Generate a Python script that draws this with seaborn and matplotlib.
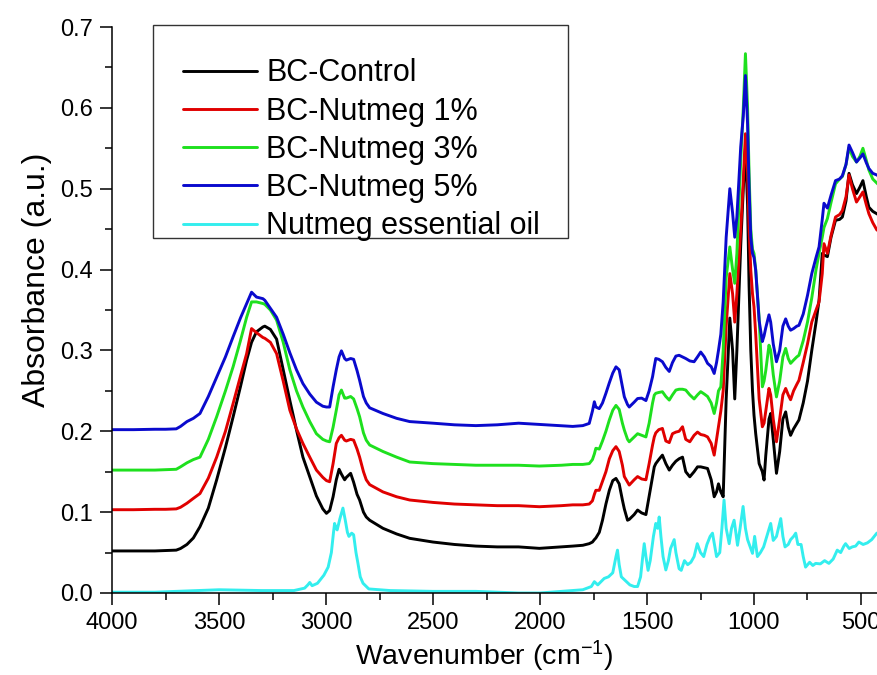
import numpy as np
import pandas as pd
import matplotlib
matplotlib.use("Agg")
import matplotlib.pyplot as plt
from matplotlib.patches import Rectangle
from matplotlib.ticker import MultipleLocator, FormatStrFormatter
import seaborn as sns

# FTIR spectra (wavenumber in cm-1, absorbance in a.u.)
wn_bc = [4000, 3900, 3800, 3750, 3700, 3680, 3650, 3620, 3589, 3550, 3511, 3470, 3434, 3400,
         3371, 3348, 3325, 3295, 3286, 3260, 3231, 3200, 3169, 3138, 3108, 3076, 3045, 3015,
         2998, 2983, 2967, 2952, 2939, 2928, 2913, 2905, 2885, 2871, 2855, 2843, 2825, 2812,
         2796, 2734, 2670, 2609, 2500, 2400, 2300, 2200, 2100, 2003, 1900, 1847, 1800, 1770,
         1755, 1746, 1739, 1723, 1708, 1692, 1676, 1660, 1645, 1630, 1615, 1606, 1591, 1583,
         1560, 1544, 1525, 1505, 1490, 1474, 1466, 1459, 1445, 1428, 1412, 1396, 1381, 1365,
         1350, 1334, 1319, 1300, 1280, 1264, 1249, 1232, 1217, 1200, 1186, 1175, 1166, 1155,
         1144, 1130, 1113, 1100, 1090, 1080, 1062, 1050, 1040, 1030, 1023, 1015, 1007, 1000,
         992, 976, 961, 953, 945, 930, 922, 910, 895, 880, 865, 852, 840, 829, 815, 800, 790,
         770, 750, 730, 710, 696, 681, 673, 657, 640, 619, 600, 587, 570, 556, 540, 521, 505,
         491, 475, 463, 445, 426, 400]

bc_control = [.052, .052, .052, .0525, .053, .055, .060, .068, .082, .105, .140, .180, .218, .255,
              .288, .310, .323, .329, .330, .326, .314, .276, .238, .2015, .168, .1438, .120, .104,
              .0985, .102, .119, .140, .153, .147, .140, .143, .148, .137, .122, .115, .100, .094,
              .090, .080, .073, .0676, .063, .060, .058, .057, .057, .0552, .057, .058, .059, .061,
              .063, .066, .068, .075, .090, .110, .127, .139, .1417, .135, .115, .104, .090, .091,
              .097, .1026, .099, .097, .120, .145, .156, .160, .165, .1705, .160, .152, .158, .163,
              .166, .168, .150, .1437, .150, .156, .156, .155, .154, .140, .119, .125, .135, .125,
              .119, .240, .340, .300, .240, .300, .430, .500, .550, .480, .380, .300, .250, .220,
              .197, .160, .150, .1397, .170, .215, .222, .190, .148, .175, .215, .224, .205, .195,
              .203, .2095, .214, .235, .262, .300, .335, .362, .420, .418, .416, .440, .461, .462,
              .465, .485, .519, .505, .494, .502, .510, .490, .477, .472, .469, .465]

bc_nutmeg_1 = [.103, .103, .1035, .1035, .104, .106, .111, .117, .123, .142, .168, .200, .2345, .268,
               .296, .327, .322, .316, .315, .310, .296, .262, .226, .203, .185, .168, .152, .143,
               .139, .1376, .160, .185, .192, .195, .189, .188, .190, .189, .178, .168, .150, .140,
               .134, .125, .119, .115, .112, .110, .109, .108, .108, .1067, .108, .109, .109, .110,
               .114, .122, .127, .127, .138, .150, .166, .176, .181, .175, .158, .144, .137, .1335,
               .140, .144, .141, .140, .160, .183, .193, .198, .202, .2035, .188, .186, .197, .199,
               .200, .2056, .190, .187, .195, .199, .196, .195, .193, .185, .1705, .190, .2056, .225,
               .250, .330, .395, .370, .335, .370, .450, .510, .568, .520, .450, .399, .370, .354,
               .320, .240, .2056, .210, .225, .253, .245, .215, .187, .215, .245, .253, .245, .239,
               .250, .258, .263, .285, .308, .335, .350, .360, .395, .432, .420, .442, .465, .468,
               .473, .490, .517, .500, .4835, .490, .496, .480, .469, .458, .449, .445]

bc_nutmeg_3 = [.152, .152, .152, .1525, .153, .156, .161, .165, .168, .190, .218, .250, .280, .312,
               .341, .360, .360, .358, .357, .350, .3375, .310, .276, .250, .230, .212, .197, .190,
               .188, .187, .205, .226, .245, .251, .241, .241, .243, .240, .228, .218, .198, .189,
               .183, .175, .168, .162, .160, .159, .158, .158, .158, .157, .158, .159, .159, .160,
               .165, .172, .179, .178, .188, .200, .214, .226, .232, .227, .210, .2015, .190, .187,
               .193, .197, .195, .193, .210, .235, .2447, .247, .248, .2489, .243, .2386, .245, .251,
               .252, .252, .251, .245, .240, .245, .249, .246, .243, .235, .222, .235, .250, .2551,
               .300, .390, .428, .400, .383, .420, .535, .600, .667, .600, .520, .450, .425, .420,
               .400, .340, .255, .262, .275, .3065, .300, .270, .2425, .262, .292, .3025, .290, .284,
               .288, .292, .294, .312, .335, .365, .400, .420, .440, .452, .463, .483, .506, .512,
               .515, .530, .551, .540, .533, .540, .550, .535, .523, .512, .507, .500]

bc_nutmeg_5 = [.202, .202, .2025, .2025, .203, .206, .212, .216, .222, .243, .267, .292, .317, .340,
               .358, .372, .366, .364, .362, .352, .341, .320, .297, .276, .259, .246, .236, .231,
               .230, .230, .255, .276, .292, .2995, .290, .288, .290, .289, .275, .263, .243, .235,
               .229, .222, .216, .212, .210, .208, .207, .208, .210, .2085, .207, .206, .207, .2097,
               .225, .2365, .230, .228, .235, .247, .260, .272, .2797, .276, .255, .2427, .233, .230,
               .236, .2405, .241, .238, .250, .2675, .280, .290, .289, .286, .279, .274, .285, .293,
               .294, .292, .290, .287, .286, .292, .298, .292, .284, .280, .2715, .285, .300, .320,
               .360, .440, .500, .470, .440, .465, .552, .590, .640, .580, .502, .440, .420, .415,
               .399, .337, .311, .318, .328, .344, .335, .308, .286, .300, .330, .339, .330, .325,
               .327, .330, .331, .345, .368, .395, .415, .428, .462, .482, .476, .492, .510, .512,
               .516, .530, .554, .545, .533, .538, .543, .532, .525, .519, .517, .512]

wn_oil = [4000, 3800, 3600, 3500, 3300, 3150, 3100, 3085, 3076, 3065, 3040, 3010, 2990, 2975,
          2965, 2960, 2953, 2948, 2935, 2921, 2910, 2900, 2893, 2880, 2871, 2860, 2851, 2840,
          2827, 2800, 2700, 2500, 2300, 2200, 2100, 2000, 1900, 1800, 1760, 1746, 1730, 1700,
          1680, 1660, 1645, 1638, 1630, 1620, 1600, 1580, 1560, 1544, 1530, 1520, 1513, 1505,
          1495, 1485, 1470, 1459, 1450, 1443, 1435, 1425, 1412, 1400, 1390, 1373, 1365, 1350,
          1340, 1325, 1310, 1295, 1280, 1265, 1250, 1235, 1220, 1205, 1194, 1185, 1175, 1160,
          1150, 1140, 1130, 1116, 1105, 1093, 1085, 1077, 1065, 1051, 1040, 1030, 1015, 1007,
          997, 984, 970, 955, 940, 922, 910, 895, 875, 865, 855, 840, 829, 815, 805, 795, 780,
          770, 759, 740, 725, 712, 690, 670, 650, 630, 611, 595, 580, 572, 555, 541, 525, 510,
          490, 470, 450, 426, 400]

nutmeg_oil = [.001, .001, .003, .004, .003, .003, .006, .010, .013, .009, .012, .022, .032, .050,
              .075, .086, .080, .078, .092, .105, .090, .075, .070, .074, .072, .050, .037, .020,
              .012, .005, .003, .002, .002, .001, .000, .000, .002, .004, .008, .014, .010, .018,
              .020, .025, .045, .053, .035, .020, .015, .010, .008, .008, .020, .045, .061, .045,
              .028, .040, .070, .086, .080, .094, .070, .045, .0285, .040, .055, .066, .050, .030,
              .028, .040, .035, .038, .045, .061, .050, .045, .060, .070, .074, .060, .045, .050,
              .080, .115, .080, .061, .080, .090, .075, .059, .080, .107, .080, .066, .055, .049,
              .070, .045, .050, .057, .070, .086, .065, .070, .092, .070, .057, .060, .066, .070,
              .074, .060, .060, .045, .032, .038, .034, .0366, .036, .040, .0366, .042, .053, .050,
              .058, .061, .055, .057, .058, .063, .060, .062, .066, .074, .076]

samples = ["BC-Control", "BC-Nutmeg 1%", "BC-Nutmeg 3%", "BC-Nutmeg 5%", "Nutmeg essential oil"]
colors = ["#000000", "#E00000", "#1EE01E", "#0A0ACD", "#33EEEE"]

frames = []
for name, wn, ab in zip(samples,
                        [wn_bc, wn_bc, wn_bc, wn_bc, wn_oil],
                        [bc_control, bc_nutmeg_1, bc_nutmeg_3, bc_nutmeg_5, nutmeg_oil]):
    frames.append(pd.DataFrame({"wavenumber": wn, "absorbance": ab, "sample": name}))
df = pd.concat(frames, ignore_index=True)

sns.set_theme(style="ticks", rc={
    "axes.edgecolor": "black", "xtick.color": "black", "ytick.color": "black",
    "text.color": "black", "axes.labelcolor": "black",
})
plt.rcParams["font.family"] = ["Liberation Sans", "DejaVu Sans"]
plt.rcParams["mathtext.default"] = "regular"

fig = plt.figure(figsize=(8.78, 6.75), dpi=100)
# axes run past the right edge of the picture, as in the cropped original
ax = fig.add_axes([0.1276, 0.1215, 0.8774, 0.8385])

sns.lineplot(
    data=df, x="wavenumber", y="absorbance", hue="sample", hue_order=samples,
    palette=dict(zip(samples, colors)), estimator=None, sort=False,
    linewidth=2.1, ax=ax,
)

ax.set_xlim(4000, 400)
ax.set_ylim(0, 0.7)
ax.xaxis.set_major_locator(MultipleLocator(500))
ax.xaxis.set_minor_locator(MultipleLocator(250))
ax.yaxis.set_major_locator(MultipleLocator(0.1))
ax.yaxis.set_minor_locator(MultipleLocator(0.05))
ax.yaxis.set_major_formatter(FormatStrFormatter("%.1f"))

for s in ["top", "right"]:
    ax.spines[s].set_visible(False)
for s in ["left", "bottom"]:
    ax.spines[s].set_linewidth(1.1)

ax.tick_params(axis="both", which="major", direction="out", length=8.6, width=1.1,
               labelsize=17, pad=5)
ax.tick_params(axis="both", which="minor", direction="out", length=5, width=1.1)

ax.set_xlabel("Wavenumber (cm$^{-1}$)", fontsize=20.5)
ax.set_ylabel("Absorbance (a.u.)", fontsize=23)
ax.xaxis.set_label_coords(0.483, -0.081)
ax.yaxis.set_label_coords(-0.078, 0.553)

handles, labels = ax.get_legend_handles_labels()
leg = ax.legend(handles, labels, loc="upper left", bbox_to_anchor=(0.0922, 0.9447),
                frameon=False, fontsize=22, handlelength=2.42, handletextpad=0.3,
                labelspacing=0.27, borderpad=0, borderaxespad=0)
for line in leg.get_lines():
    line.set_linewidth(2.1)
ax.add_patch(Rectangle((0.0532, 0.627), 0.5388, 0.3765, transform=ax.transAxes,
                       fill=False, edgecolor="#333333", linewidth=1.0, clip_on=False, zorder=5))

fig.savefig("out.png", dpi=100)
plt.close(fig)
